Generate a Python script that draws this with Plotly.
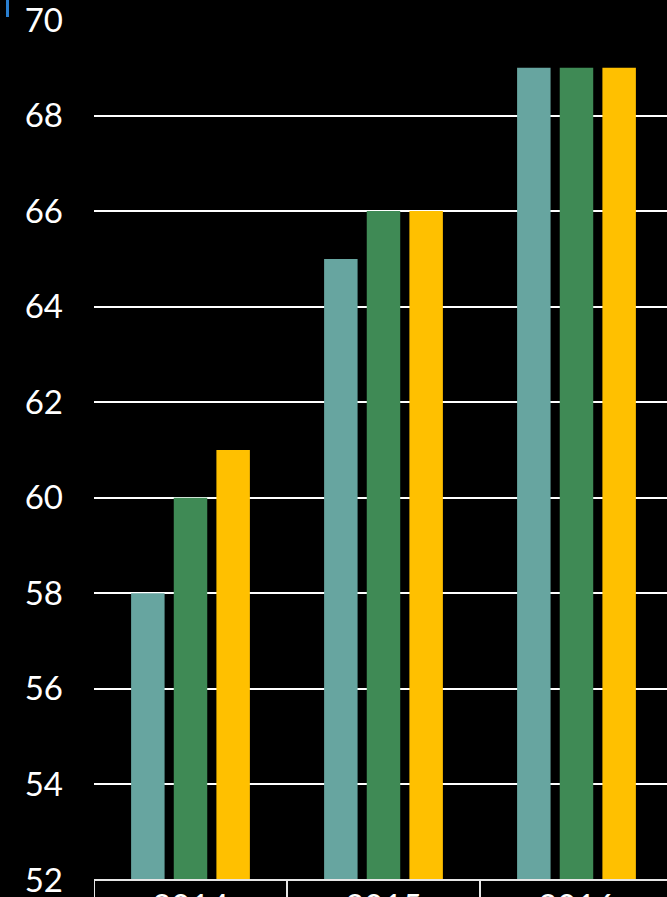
import plotly.graph_objects as go

categories = ["2014", "2015", "2016"]
# values per series across categories
s1 = [58, 65, 69]
s2 = [60, 66, 69]
s3 = [61, 66, 69]
y_ticks = [52, 54, 56, 58, 60, 62, 64, 66, 68, 70]
colors = ["#67a5a0", "#3f8a55", "#ffc000"]

fig = go.Figure()
for name, vals, col in zip(["A", "B", "C"], [s1, s2, s3], colors):
    fig.add_trace(go.Bar(x=categories, y=vals, name=name, marker=dict(color=col, line=dict(width=0))))

fig.update_layout(
    width=667, height=897,
    paper_bgcolor="black", plot_bgcolor="black",
    margin=dict(l=94, r=0, t=20, b=17, autoexpand=False),
    barmode="group", bargap=0.337, bargroupgap=0.215,
    showlegend=False,
    font=dict(family="Lato, sans-serif", color="white", size=33),
    xaxis=dict(type="category", range=[-0.5, 2.469], showgrid=False, showticklabels=True,
               automargin=False, ticklabeloverflow="allow", ticks="", ticklabelstandoff=4,
               tickfont=dict(size=33, color="white"),
               zeroline=False, showline=False),
    yaxis=dict(range=[52, 70], tickvals=y_ticks, showgrid=True, gridcolor="white", gridwidth=2,
               automargin=False, zeroline=False, showline=False, ticklabelstandoff=30,
               ticklabeloverflow="allow", tickfont=dict(size=33, color="white")),
)

# category box lines
line_col = "#e6e6e6"
fig.add_shape(type="line", xref="paper", yref="paper", x0=0, x1=1, y0=0, y1=0,
              line=dict(color=line_col, width=2), layer="above")
for b in [-0.5, 0.5, 1.5]:
    fig.add_shape(type="line", xref="x", yref="paper", x0=b, x1=b, y0=0, y1=-0.05,
                  line=dict(color=line_col, width=2), layer="above")

# small blue marker at top-left
fig.add_shape(type="rect", xref="paper", yref="paper", x0=-0.1536, x1=-0.1483, y0=1.0035, y1=1.0233,
              fillcolor="#2a7fd0", line=dict(width=0))

fig.write_html("out.html")
